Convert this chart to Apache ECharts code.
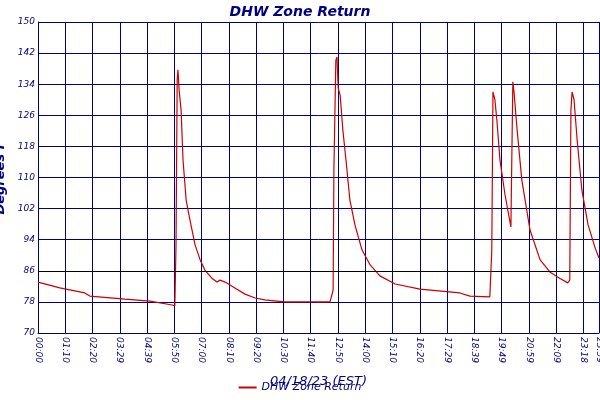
<!DOCTYPE html>
<html><head><meta charset="utf-8">
<script src="https://cdn.jsdelivr.net/npm/echarts@6/dist/echarts.min.js"></script>
</head><body style="margin:0">
<div id="chart" style="width:600px;height:400px"></div>
<script>
// minutes since midnight, and temperature (F)
var minutes = [0,56,120,133,223,287,344,351,354,357,359,362,367,372,380,390,403,416,428,446,459,467,480,505,531,557,582,613,634,749,754,757,759,764,767,770,775,782,790,800,813,831,852,877,916,980,1082,1108,1159,1162,1164,1167,1172,1177,1185,1198,1213,1218,1221,1229,1241,1262,1288,1313,1339,1359,1364,1367,1370,1375,1383,1395,1411,1429,1439];
var temps = [83.1,81.6,80.3,79.5,78.7,78.2,77.2,77.0,92.6,135,137.7,132.5,127.4,114.5,104.2,99,92.6,88.8,86.2,84.1,83.1,83.6,83.1,81.6,80,79,78.5,78.2,78,78,77.7,81,112,140.2,141,133,131.2,122.2,114.5,104.2,97.8,91.4,87.5,84.7,82.6,81.3,80.3,79.5,79.3,79.5,91.4,132,130,124.8,114.5,105.5,97.3,134.6,132,122.2,109.4,96.5,88.8,85.7,84,82.9,83.6,127.4,132,130,119.6,106.8,97.8,91.9,89.3];
var tickLabels = ['00:00','01:10','02:20','03:29','04:39','05:50','07:00','08:10','09:20','10:30','11:40','12:50','14:00','15:10','16:20','17:29','18:39','19:49','20:59','22:09','23:18'];
var navy = '#000080';
var seriesData = [];
for (var i = 0; i < minutes.length; i++) seriesData.push([minutes[i], temps[i]]);
var chart = echarts.init(document.getElementById('chart'));
chart.setOption({
    animation:false,
    title:{text:'DHW Zone Return',left:'center',top:0,
        textStyle:{color:navy,fontStyle:'italic',fontWeight:'bold',fontSize:14,fontFamily:'DejaVu Sans'}},
    legend:{bottom:2,left:'center',itemWidth:18,itemHeight:2,icon:'rect',
        textStyle:{color:navy,fontStyle:'italic',fontSize:11,fontFamily:'DejaVu Sans'},
        data:['DHW Zone Return']},
    grid:{left:38,right:1,top:22,bottom:67,containLabel:false,outerBoundsMode:'none'},
    xAxis:{type:'value',min:0,max:1439,interval:69.95,
        name:'04/18/23 (EST)',nameLocation:'middle',nameGap:42,
        nameTextStyle:{color:navy,fontStyle:'italic',fontSize:13,fontFamily:'DejaVu Sans'},
        axisLine:{lineStyle:{color:navy}},axisTick:{show:false},
        splitLine:{lineStyle:{color:navy,width:1}},
        axisLabel:{rotate:-90,color:navy,fontStyle:'italic',fontSize:9,fontFamily:'DejaVu Sans',margin:4,
            showMaxLabel:true,formatter:function(v){
                if (v >= 1439) return '23:59';
                return tickLabels[Math.round(v/69.95)] || '';
            }}},
    yAxis:{type:'value',min:70,max:150,interval:8,
        name:'Degrees F',nameLocation:'middle',nameGap:24,
        nameTextStyle:{color:navy,fontStyle:'italic',fontWeight:'bold',fontSize:13,fontFamily:'DejaVu Sans'},
        axisLine:{show:true,lineStyle:{color:navy}},axisTick:{show:false},
        splitLine:{lineStyle:{color:navy,width:1}},
        axisLabel:{color:navy,fontStyle:'italic',fontSize:9,fontFamily:'DejaVu Sans',margin:3}},
    series:[{name:'DHW Zone Return',type:'line',data:seriesData,showSymbol:false,
        lineStyle:{color:'#cc0000',width:1.2},itemStyle:{color:'#cc0000'},
        markLine:{silent:true,symbol:'none',label:{show:false},
            lineStyle:{color:'#000',type:'solid',width:1},data:[{yAxis:86}]}}]
});
</script>
</body></html>
